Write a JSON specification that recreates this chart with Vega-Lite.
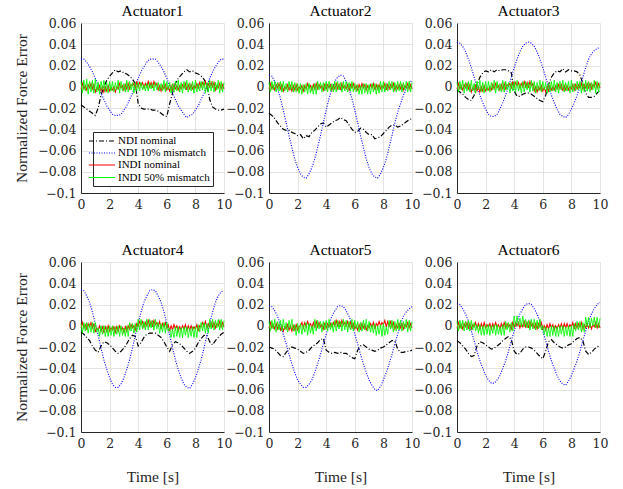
{
"$schema":"https://vega.github.io/schema/vega-lite/v6.json",
"padding":{"left":14,"top":3,"right":5,"bottom":5},
"bounds":"flush",
"columns":3,
"spacing":{"row":69,"column":45},
"resolve":{"scale":{"color":"independent","strokeDash":"independent","strokeWidth":"independent"},"legend":{"color":"independent","strokeDash":"independent","strokeWidth":"independent"}},
"config":{
"font":"Liberation Serif",
"view":{"stroke":null},
"axis":{"labelFont":"DejaVu Serif","labelFontSize":12.5,"labelColor":"#262626","titleFont":"Liberation Serif","titleFontSize":15.5,"titleFontWeight":"normal","titleColor":"#262626","gridColor":"#e3e3e3","gridWidth":1,"domainColor":"#262626","domainWidth":1,"ticks":false,"labelPadding":5,"labelFlush":false,"labelOverlap":false},
"axisY":{"titlePadding":8},
"axisX":{"titlePadding":20},
"title":{"font":"Liberation Serif","fontSize":15.5,"fontWeight":"normal","color":"#000000","frame":"group","offset":-2,"baseline":"alphabetic"}
},
"datasets":{
"a1":[
{"t":0,"k":-0.017,"b":0.026,"r":-0.002,"g":0.005},
{"t":0.2,"k":-0.019,"b":0.026,"r":-0.002,"g":0.006},
{"t":0.4,"k":-0.021,"b":0.023,"r":-0.003,"g":0.007},
{"t":0.6,"k":-0.023,"b":0.019,"r":-0.001,"g":0.005},
{"t":0.8,"k":-0.025,"b":0.014,"r":-0.002,"g":0.006},
{"t":1,"k":-0.027,"b":0.008,"r":-0.005,"g":0.007},
{"t":1.2,"k":-0.020,"b":0.001,"r":-0.003,"g":0.004},
{"t":1.4,"k":-0.008,"b":-0.006,"r":-0.004,"g":0.005},
{"t":1.6,"k":0.000,"b":-0.012,"r":-0.005,"g":0.006},
{"t":1.8,"k":0.006,"b":-0.018,"r":-0.004,"g":0.004},
{"t":2,"k":0.010,"b":-0.022,"r":-0.004,"g":0.005},
{"t":2.2,"k":0.013,"b":-0.026,"r":-0.003,"g":0.005},
{"t":2.4,"k":0.016,"b":-0.027,"r":-0.005,"g":0.004},
{"t":2.6,"k":0.014,"b":-0.027,"r":-0.002,"g":0.006},
{"t":2.8,"k":0.015,"b":-0.026,"r":-0.001,"g":0.005},
{"t":3,"k":0.013,"b":-0.022,"r":-0.003,"g":0.003},
{"t":3.2,"k":0.012,"b":-0.018,"r":-0.002,"g":0.006},
{"t":3.4,"k":0.010,"b":-0.012,"r":-0.002,"g":0.005},
{"t":3.6,"k":0.007,"b":-0.006,"r":0.001,"g":0.004},
{"t":3.8,"k":0.003,"b":0.001,"r":-0.001,"g":0.004},
{"t":4,"k":-0.016,"b":0.008,"r":0.000,"g":0.004},
{"t":4.2,"k":-0.020,"b":0.014,"r":0.001,"g":0.004},
{"t":4.4,"k":-0.021,"b":0.019,"r":-0.001,"g":0.002},
{"t":4.6,"k":-0.021,"b":0.023,"r":0.000,"g":0.003},
{"t":4.8,"k":-0.021,"b":0.026,"r":0.000,"g":0.004},
{"t":5,"k":-0.022,"b":0.026,"r":-0.001,"g":0.003},
{"t":5.2,"k":-0.022,"b":0.026,"r":0.001,"g":0.004},
{"t":5.4,"k":-0.023,"b":0.023,"r":-0.003,"g":0.004},
{"t":5.6,"k":-0.025,"b":0.019,"r":-0.004,"g":0.003},
{"t":5.8,"k":-0.027,"b":0.014,"r":-0.002,"g":0.006},
{"t":6,"k":-0.028,"b":0.008,"r":-0.003,"g":0.005},
{"t":6.2,"k":-0.016,"b":0.001,"r":-0.004,"g":0.004},
{"t":6.4,"k":-0.006,"b":-0.006,"r":-0.003,"g":0.003},
{"t":6.6,"k":0.003,"b":-0.012,"r":-0.002,"g":0.005},
{"t":6.8,"k":0.008,"b":-0.018,"r":-0.003,"g":0.006},
{"t":7,"k":0.011,"b":-0.022,"r":-0.002,"g":0.004},
{"t":7.2,"k":0.014,"b":-0.026,"r":-0.001,"g":0.005},
{"t":7.4,"k":0.016,"b":-0.029,"r":-0.003,"g":0.006},
{"t":7.6,"k":0.014,"b":-0.027,"r":-0.002,"g":0.004},
{"t":7.8,"k":0.015,"b":-0.026,"r":-0.002,"g":0.005},
{"t":8,"k":0.013,"b":-0.022,"r":-0.001,"g":0.006},
{"t":8.2,"k":0.012,"b":-0.018,"r":-0.001,"g":0.003},
{"t":8.4,"k":0.010,"b":-0.012,"r":0.000,"g":0.005},
{"t":8.6,"k":0.007,"b":-0.006,"r":0.001,"g":0.005},
{"t":8.8,"k":0.002,"b":0.001,"r":-0.001,"g":0.004},
{"t":9,"k":-0.012,"b":0.008,"r":0.000,"g":0.006},
{"t":9.2,"k":-0.019,"b":0.014,"r":0.000,"g":0.005},
{"t":9.4,"k":-0.021,"b":0.019,"r":-0.003,"g":0.004},
{"t":9.6,"k":-0.022,"b":0.023,"r":-0.001,"g":0.006},
{"t":9.8,"k":-0.022,"b":0.026,"r":-0.002,"g":0.005},
{"t":10,"k":-0.021,"b":0.026,"r":-0.002,"g":0.004},
{"t":0.1,"r":0.003,"g":-0.006},{"t":0.3,"r":0.001,"g":-0.004},{"t":0.5,"r":0.002,"g":-0.007},{"t":0.7,"r":0.003,"g":-0.005},{"t":0.9,"r":0.002,"g":-0.006},
{"t":1.1,"r":-0.001,"g":-0.005},{"t":1.3,"r":0.001,"g":-0.007},{"t":1.5,"r":0.000,"g":-0.003},{"t":1.7,"r":0.000,"g":-0.005},{"t":1.9,"r":0.001,"g":-0.006},
{"t":2.1,"r":-0.001,"g":-0.004},{"t":2.3,"r":0.000,"g":-0.005},{"t":2.5,"r":0.000,"g":-0.003},{"t":2.7,"r":0.003,"g":-0.006},{"t":2.9,"r":0.001,"g":-0.004},
{"t":3.1,"r":0.002,"g":-0.005},{"t":3.3,"r":0.003,"g":-0.005},{"t":3.5,"r":0.002,"g":-0.003},{"t":3.7,"r":0.003,"g":-0.006},{"t":3.9,"r":0.005,"g":-0.004},
{"t":4.1,"r":0.004,"g":-0.004},{"t":4.3,"r":0.004,"g":-0.003},{"t":4.5,"r":0.003,"g":-0.004},{"t":4.7,"r":0.005,"g":-0.004},{"t":4.9,"r":0.004,"g":-0.002},
{"t":5.1,"r":0.005,"g":-0.004},{"t":5.3,"r":0.003,"g":-0.003},{"t":5.5,"r":0.001,"g":-0.004},{"t":5.7,"r":0.001,"g":-0.004},{"t":5.9,"r":0.002,"g":-0.005},
{"t":6.1,"r":0.000,"g":-0.003},{"t":6.3,"r":0.001,"g":-0.006},{"t":6.5,"r":0.002,"g":-0.005},{"t":6.7,"r":0.001,"g":-0.004},{"t":6.9,"r":0.001,"g":-0.005},
{"t":7.1,"r":0.002,"g":-0.006},{"t":7.3,"r":0.003,"g":-0.003},{"t":7.5,"r":0.002,"g":-0.005},{"t":7.7,"r":0.002,"g":-0.004},{"t":7.9,"r":0.001,"g":-0.006},
{"t":8.1,"r":0.003,"g":-0.005},{"t":8.3,"r":0.004,"g":-0.004},{"t":8.5,"r":0.004,"g":-0.003},{"t":8.7,"r":0.005,"g":-0.006},{"t":8.9,"r":0.003,"g":-0.005},
{"t":9.1,"r":0.004,"g":-0.004},{"t":9.3,"r":0.004,"g":-0.005},{"t":9.5,"r":0.001,"g":-0.003},{"t":9.7,"r":0.003,"g":-0.006},{"t":9.9,"r":0.002,"g":-0.005}
],
"a2":[
{"t":0,"k":-0.025,"b":0.011,"r":-0.002,"g":0.004},
{"t":0.2,"k":-0.027,"b":0.010,"r":-0.002,"g":0.005},
{"t":0.4,"k":-0.030,"b":0.005,"r":-0.003,"g":0.005},
{"t":0.6,"k":-0.034,"b":-0.002,"r":-0.001,"g":0.004},
{"t":0.8,"k":-0.037,"b":-0.011,"r":-0.002,"g":0.005},
{"t":1,"k":-0.040,"b":-0.022,"r":-0.004,"g":0.005},
{"t":1.2,"k":-0.041,"b":-0.034,"r":-0.002,"g":0.003},
{"t":1.4,"k":-0.041,"b":-0.046,"r":-0.003,"g":0.005},
{"t":1.6,"k":-0.043,"b":-0.057,"r":-0.004,"g":0.005},
{"t":1.8,"k":-0.044,"b":-0.068,"r":-0.003,"g":0.004},
{"t":2,"k":-0.046,"b":-0.076,"r":-0.003,"g":0.003},
{"t":2.2,"k":-0.045,"b":-0.082,"r":-0.002,"g":0.003},
{"t":2.4,"k":-0.049,"b":-0.085,"r":-0.004,"g":0.002},
{"t":2.6,"k":-0.046,"b":-0.086,"r":-0.002,"g":0.003},
{"t":2.8,"k":-0.047,"b":-0.082,"r":-0.001,"g":0.003},
{"t":3,"k":-0.043,"b":-0.076,"r":-0.003,"g":0.001},
{"t":3.2,"k":-0.041,"b":-0.068,"r":-0.002,"g":0.003},
{"t":3.4,"k":-0.038,"b":-0.057,"r":-0.002,"g":0.005},
{"t":3.6,"k":-0.035,"b":-0.046,"r":-0.001,"g":0.004},
{"t":3.8,"k":-0.034,"b":-0.034,"r":-0.003,"g":0.004},
{"t":4,"k":-0.038,"b":-0.022,"r":-0.002,"g":0.005},
{"t":4.2,"k":-0.036,"b":-0.011,"r":-0.001,"g":0.005},
{"t":4.4,"k":-0.034,"b":-0.002,"r":-0.003,"g":0.003},
{"t":4.6,"k":-0.032,"b":0.005,"r":-0.002,"g":0.005},
{"t":4.8,"k":-0.031,"b":0.009,"r":-0.002,"g":0.005},
{"t":5,"k":-0.029,"b":0.011,"r":-0.003,"g":0.004},
{"t":5.2,"k":-0.031,"b":0.010,"r":-0.001,"g":0.005},
{"t":5.4,"k":-0.032,"b":0.005,"r":-0.002,"g":0.005},
{"t":5.6,"k":-0.036,"b":-0.002,"r":-0.003,"g":0.004},
{"t":5.8,"k":-0.040,"b":-0.011,"r":-0.001,"g":0.005},
{"t":6,"k":-0.043,"b":-0.022,"r":-0.002,"g":0.003},
{"t":6.2,"k":-0.042,"b":-0.034,"r":-0.003,"g":0.002},
{"t":6.4,"k":-0.039,"b":-0.046,"r":-0.002,"g":0.001},
{"t":6.6,"k":-0.040,"b":-0.057,"r":-0.001,"g":0.003},
{"t":6.8,"k":-0.043,"b":-0.068,"r":-0.003,"g":0.003},
{"t":7,"k":-0.045,"b":-0.076,"r":-0.002,"g":0.002},
{"t":7.2,"k":-0.045,"b":-0.082,"r":-0.001,"g":0.003},
{"t":7.4,"k":-0.049,"b":-0.085,"r":-0.003,"g":0.003},
{"t":7.6,"k":-0.048,"b":-0.086,"r":-0.002,"g":0.002},
{"t":7.8,"k":-0.047,"b":-0.082,"r":-0.002,"g":0.005},
{"t":8,"k":-0.044,"b":-0.076,"r":-0.001,"g":0.005},
{"t":8.2,"k":-0.041,"b":-0.068,"r":-0.003,"g":0.003},
{"t":8.4,"k":-0.038,"b":-0.057,"r":-0.002,"g":0.005},
{"t":8.6,"k":-0.036,"b":-0.046,"r":-0.001,"g":0.005},
{"t":8.8,"k":-0.036,"b":-0.034,"r":-0.003,"g":0.004},
{"t":9,"k":-0.038,"b":-0.024,"r":-0.002,"g":0.005},
{"t":9.2,"k":-0.037,"b":-0.016,"r":-0.002,"g":0.005},
{"t":9.4,"k":-0.035,"b":-0.008,"r":-0.003,"g":0.004},
{"t":9.6,"k":-0.033,"b":-0.002,"r":-0.001,"g":0.005},
{"t":9.8,"k":-0.031,"b":0.003,"r":-0.002,"g":0.005},
{"t":10,"k":-0.030,"b":0.006,"r":-0.002,"g":0.004},
{"t":0.1,"r":0.003,"g":-0.005},{"t":0.3,"r":0.001,"g":-0.003},{"t":0.5,"r":0.002,"g":-0.005},{"t":0.7,"r":0.003,"g":-0.004},{"t":0.9,"r":0.002,"g":-0.005},
{"t":1.1,"r":0.000,"g":-0.004},{"t":1.3,"r":0.002,"g":-0.005},{"t":1.5,"r":0.001,"g":-0.003},{"t":1.7,"r":0.001,"g":-0.005},{"t":1.9,"r":0.002,"g":-0.005},
{"t":2.1,"r":0.000,"g":-0.006},{"t":2.3,"r":0.001,"g":-0.007},{"t":2.5,"r":0.001,"g":-0.005},{"t":2.7,"r":0.003,"g":-0.007},{"t":2.9,"r":0.001,"g":-0.006},
{"t":3.1,"r":0.002,"g":-0.007},{"t":3.3,"r":0.003,"g":-0.007},{"t":3.5,"r":0.002,"g":-0.003},{"t":3.7,"r":0.001,"g":-0.005},{"t":3.9,"r":0.003,"g":-0.004},
{"t":4.1,"r":0.002,"g":-0.005},{"t":4.3,"r":0.002,"g":-0.004},{"t":4.5,"r":0.001,"g":-0.005},{"t":4.7,"r":0.003,"g":-0.005},{"t":4.9,"r":0.002,"g":-0.003},
{"t":5.1,"r":0.003,"g":-0.005},{"t":5.3,"r":0.001,"g":-0.004},{"t":5.5,"r":0.002,"g":-0.005},{"t":5.7,"r":0.002,"g":-0.004},{"t":5.9,"r":0.003,"g":-0.005},
{"t":6.1,"r":0.001,"g":-0.005},{"t":6.3,"r":0.002,"g":-0.007},{"t":6.5,"r":0.003,"g":-0.007},{"t":6.7,"r":0.002,"g":-0.006},{"t":6.9,"r":0.001,"g":-0.007},
{"t":7.1,"r":0.002,"g":-0.007},{"t":7.3,"r":0.003,"g":-0.005},{"t":7.5,"r":0.002,"g":-0.007},{"t":7.7,"r":0.002,"g":-0.006},{"t":7.9,"r":0.001,"g":-0.005},
{"t":8.1,"r":0.003,"g":-0.005},{"t":8.3,"r":0.002,"g":-0.004},{"t":8.5,"r":0.002,"g":-0.003},{"t":8.7,"r":0.003,"g":-0.005},{"t":8.9,"r":0.001,"g":-0.005},
{"t":9.1,"r":0.002,"g":-0.004},{"t":9.3,"r":0.002,"g":-0.005},{"t":9.5,"r":0.001,"g":-0.003},{"t":9.7,"r":0.003,"g":-0.005},{"t":9.9,"r":0.002,"g":-0.005}
],
"a3":[
{"t":0,"k":-0.003,"b":0.042,"r":-0.002,"g":0.004},
{"t":0.2,"k":-0.005,"b":0.041,"r":-0.002,"g":0.005},
{"t":0.4,"k":-0.007,"b":0.038,"r":-0.003,"g":0.006},
{"t":0.6,"k":-0.010,"b":0.033,"r":-0.001,"g":0.004},
{"t":0.8,"k":-0.012,"b":0.026,"r":-0.002,"g":0.005},
{"t":1,"k":-0.013,"b":0.018,"r":-0.005,"g":0.006},
{"t":1.2,"k":-0.008,"b":0.009,"r":-0.003,"g":0.003},
{"t":1.4,"k":0.002,"b":0.000,"r":-0.004,"g":0.005},
{"t":1.6,"k":0.009,"b":-0.008,"r":-0.005,"g":0.006},
{"t":1.8,"k":0.013,"b":-0.015,"r":-0.004,"g":0.004},
{"t":2,"k":0.015,"b":-0.021,"r":-0.004,"g":0.005},
{"t":2.2,"k":0.014,"b":-0.026,"r":-0.003,"g":0.005},
{"t":2.4,"k":0.016,"b":-0.028,"r":-0.003,"g":0.004},
{"t":2.6,"k":0.014,"b":-0.028,"r":-0.002,"g":0.006},
{"t":2.8,"k":0.016,"b":-0.026,"r":-0.001,"g":0.005},
{"t":3,"k":0.015,"b":-0.021,"r":-0.003,"g":0.003},
{"t":3.2,"k":0.016,"b":-0.015,"r":-0.002,"g":0.006},
{"t":3.4,"k":0.016,"b":-0.008,"r":-0.002,"g":0.005},
{"t":3.6,"k":0.015,"b":0.000,"r":0.001,"g":0.004},
{"t":3.8,"k":0.013,"b":0.009,"r":-0.001,"g":0.004},
{"t":4,"k":-0.004,"b":0.018,"r":0.000,"g":0.005},
{"t":4.2,"k":-0.009,"b":0.026,"r":0.001,"g":0.006},
{"t":4.4,"k":-0.009,"b":0.033,"r":-0.001,"g":0.003},
{"t":4.6,"k":-0.007,"b":0.038,"r":0.000,"g":0.005},
{"t":4.8,"k":-0.006,"b":0.041,"r":0.000,"g":0.005},
{"t":5,"k":-0.006,"b":0.042,"r":-0.001,"g":0.004},
{"t":5.2,"k":-0.007,"b":0.041,"r":0.001,"g":0.006},
{"t":5.4,"k":-0.009,"b":0.038,"r":-0.004,"g":0.005},
{"t":5.6,"k":-0.011,"b":0.033,"r":-0.005,"g":0.004},
{"t":5.8,"k":-0.013,"b":0.026,"r":-0.003,"g":0.006},
{"t":6,"k":-0.014,"b":0.018,"r":-0.004,"g":0.005},
{"t":6.2,"k":-0.008,"b":0.009,"r":-0.005,"g":0.004},
{"t":6.4,"k":0.002,"b":0.000,"r":-0.004,"g":0.003},
{"t":6.6,"k":0.009,"b":-0.008,"r":-0.003,"g":0.005},
{"t":6.8,"k":0.013,"b":-0.015,"r":-0.003,"g":0.006},
{"t":7,"k":0.015,"b":-0.021,"r":-0.002,"g":0.004},
{"t":7.2,"k":0.014,"b":-0.026,"r":-0.002,"g":0.005},
{"t":7.4,"k":0.017,"b":-0.028,"r":-0.004,"g":0.006},
{"t":7.6,"k":0.014,"b":-0.029,"r":-0.003,"g":0.004},
{"t":7.8,"k":0.016,"b":-0.026,"r":-0.003,"g":0.005},
{"t":8,"k":0.015,"b":-0.021,"r":-0.002,"g":0.006},
{"t":8.2,"k":0.015,"b":-0.015,"r":-0.003,"g":0.003},
{"t":8.4,"k":0.014,"b":-0.008,"r":-0.002,"g":0.005},
{"t":8.6,"k":0.011,"b":0.000,"r":-0.001,"g":0.005},
{"t":8.8,"k":0.003,"b":0.009,"r":-0.002,"g":0.004},
{"t":9,"k":-0.006,"b":0.018,"r":-0.001,"g":0.006},
{"t":9.2,"k":-0.010,"b":0.026,"r":-0.001,"g":0.005},
{"t":9.4,"k":-0.010,"b":0.031,"r":-0.002,"g":0.004},
{"t":9.6,"k":-0.009,"b":0.034,"r":0.000,"g":0.006},
{"t":9.8,"k":-0.006,"b":0.036,"r":-0.001,"g":0.005},
{"t":10,"k":-0.003,"b":0.037,"r":-0.001,"g":0.004},
{"t":0.1,"r":0.003,"g":-0.005},{"t":0.3,"r":0.001,"g":-0.003},{"t":0.5,"r":0.002,"g":-0.006},{"t":0.7,"r":0.003,"g":-0.004},{"t":0.9,"r":0.002,"g":-0.005},
{"t":1.1,"r":-0.001,"g":-0.004},{"t":1.3,"r":0.001,"g":-0.006},{"t":1.5,"r":0.000,"g":-0.003},{"t":1.7,"r":0.000,"g":-0.005},{"t":1.9,"r":0.001,"g":-0.006},
{"t":2.1,"r":-0.001,"g":-0.004},{"t":2.3,"r":0.000,"g":-0.005},{"t":2.5,"r":0.002,"g":-0.003},{"t":2.7,"r":0.003,"g":-0.006},{"t":2.9,"r":0.001,"g":-0.004},
{"t":3.1,"r":0.002,"g":-0.005},{"t":3.3,"r":0.003,"g":-0.005},{"t":3.5,"r":0.002,"g":-0.003},{"t":3.7,"r":0.003,"g":-0.006},{"t":3.9,"r":0.005,"g":-0.004},
{"t":4.1,"r":0.004,"g":-0.005},{"t":4.3,"r":0.004,"g":-0.004},{"t":4.5,"r":0.003,"g":-0.006},{"t":4.7,"r":0.005,"g":-0.005},{"t":4.9,"r":0.004,"g":-0.003},
{"t":5.1,"r":0.005,"g":-0.005},{"t":5.3,"r":0.003,"g":-0.004},{"t":5.5,"r":0.000,"g":-0.006},{"t":5.7,"r":0.000,"g":-0.004},{"t":5.9,"r":0.001,"g":-0.005},
{"t":6.1,"r":-0.001,"g":-0.003},{"t":6.3,"r":0.000,"g":-0.006},{"t":6.5,"r":0.001,"g":-0.005},{"t":6.7,"r":0.000,"g":-0.004},{"t":6.9,"r":0.001,"g":-0.005},
{"t":7.1,"r":0.002,"g":-0.006},{"t":7.3,"r":0.002,"g":-0.003},{"t":7.5,"r":0.001,"g":-0.005},{"t":7.7,"r":0.001,"g":-0.004},{"t":7.9,"r":0.000,"g":-0.006},
{"t":8.1,"r":0.002,"g":-0.005},{"t":8.3,"r":0.002,"g":-0.004},{"t":8.5,"r":0.002,"g":-0.003},{"t":8.7,"r":0.003,"g":-0.006},{"t":8.9,"r":0.002,"g":-0.005},
{"t":9.1,"r":0.003,"g":-0.004},{"t":9.3,"r":0.003,"g":-0.005},{"t":9.5,"r":0.002,"g":-0.003},{"t":9.7,"r":0.004,"g":-0.006},{"t":9.9,"r":0.003,"g":-0.005}
],
"a4":[
{"t":0,"k":-0.006,"b":0.034,"r":-0.002,"g":0.002},
{"t":0.2,"k":-0.008,"b":0.033,"r":-0.002,"g":0.003},
{"t":0.4,"k":-0.011,"b":0.028,"r":-0.003,"g":0.003},
{"t":0.6,"k":-0.014,"b":0.022,"r":-0.001,"g":0.002},
{"t":0.8,"k":-0.019,"b":0.013,"r":-0.002,"g":0.003},
{"t":1,"k":-0.023,"b":0.002,"r":-0.006,"g":0.003},
{"t":1.2,"k":-0.025,"b":-0.009,"r":-0.004,"g":-0.002},
{"t":1.4,"k":-0.019,"b":-0.021,"r":-0.005,"g":0.000},
{"t":1.6,"k":-0.015,"b":-0.032,"r":-0.006,"g":0.000},
{"t":1.8,"k":-0.016,"b":-0.041,"r":-0.005,"g":-0.001},
{"t":2,"k":-0.018,"b":-0.049,"r":-0.005,"g":0.000},
{"t":2.2,"k":-0.021,"b":-0.055,"r":-0.004,"g":0.000},
{"t":2.4,"k":-0.024,"b":-0.058,"r":-0.006,"g":-0.001},
{"t":2.6,"k":-0.026,"b":-0.058,"r":-0.005,"g":0.000},
{"t":2.8,"k":-0.024,"b":-0.055,"r":-0.004,"g":0.000},
{"t":3,"k":-0.021,"b":-0.049,"r":-0.006,"g":-0.002},
{"t":3.2,"k":-0.017,"b":-0.041,"r":-0.005,"g":0.000},
{"t":3.4,"k":-0.012,"b":-0.032,"r":-0.003,"g":0.003},
{"t":3.6,"k":-0.009,"b":-0.021,"r":-0.002,"g":0.002},
{"t":3.8,"k":-0.010,"b":-0.009,"r":-0.004,"g":0.002},
{"t":4,"k":-0.019,"b":0.002,"r":0.000,"g":0.006},
{"t":4.2,"k":-0.016,"b":0.013,"r":0.001,"g":0.006},
{"t":4.4,"k":-0.011,"b":0.022,"r":-0.001,"g":0.004},
{"t":4.6,"k":-0.008,"b":0.028,"r":0.000,"g":0.006},
{"t":4.8,"k":-0.007,"b":0.033,"r":0.000,"g":0.006},
{"t":5,"k":-0.007,"b":0.034,"r":-0.001,"g":0.005},
{"t":5.2,"k":-0.007,"b":0.033,"r":0.001,"g":0.006},
{"t":5.4,"k":-0.009,"b":0.028,"r":0.000,"g":0.003},
{"t":5.6,"k":-0.011,"b":0.022,"r":-0.003,"g":0.002},
{"t":5.8,"k":-0.015,"b":0.013,"r":-0.001,"g":0.003},
{"t":6,"k":-0.020,"b":0.002,"r":-0.002,"g":0.003},
{"t":6.2,"k":-0.024,"b":-0.009,"r":-0.005,"g":-0.002},
{"t":6.4,"k":-0.018,"b":-0.021,"r":-0.004,"g":-0.003},
{"t":6.6,"k":-0.015,"b":-0.032,"r":-0.003,"g":-0.001},
{"t":6.8,"k":-0.016,"b":-0.041,"r":-0.005,"g":-0.001},
{"t":7,"k":-0.018,"b":-0.049,"r":-0.004,"g":-0.002},
{"t":7.2,"k":-0.021,"b":-0.055,"r":-0.003,"g":-0.001},
{"t":7.4,"k":-0.024,"b":-0.058,"r":-0.005,"g":-0.001},
{"t":7.6,"k":-0.026,"b":-0.059,"r":-0.004,"g":-0.002},
{"t":7.8,"k":-0.024,"b":-0.055,"r":-0.004,"g":-0.001},
{"t":8,"k":-0.021,"b":-0.049,"r":-0.003,"g":-0.001},
{"t":8.2,"k":-0.016,"b":-0.041,"r":-0.005,"g":0.001},
{"t":8.4,"k":-0.012,"b":-0.032,"r":-0.001,"g":0.003},
{"t":8.6,"k":-0.009,"b":-0.021,"r":0.000,"g":0.003},
{"t":8.8,"k":-0.009,"b":-0.009,"r":-0.002,"g":0.002},
{"t":9,"k":-0.015,"b":0.002,"r":-0.001,"g":0.006},
{"t":9.2,"k":-0.018,"b":0.013,"r":-0.001,"g":0.006},
{"t":9.4,"k":-0.014,"b":0.022,"r":-0.002,"g":0.005},
{"t":9.6,"k":-0.011,"b":0.028,"r":0.000,"g":0.006},
{"t":9.8,"k":-0.008,"b":0.032,"r":-0.001,"g":0.006},
{"t":10,"k":-0.006,"b":0.033,"r":-0.001,"g":0.005},
{"t":0.1,"r":0.003,"g":-0.007},{"t":0.3,"r":0.001,"g":-0.005},{"t":0.5,"r":0.002,"g":-0.007},{"t":0.7,"r":0.003,"g":-0.006},{"t":0.9,"r":0.002,"g":-0.007},
{"t":1.1,"r":-0.002,"g":-0.006},{"t":1.3,"r":0.000,"g":-0.010},{"t":1.5,"r":-0.001,"g":-0.008},{"t":1.7,"r":-0.001,"g":-0.010},{"t":1.9,"r":0.000,"g":-0.010},
{"t":2.1,"r":-0.002,"g":-0.009},{"t":2.3,"r":-0.001,"g":-0.010},{"t":2.5,"r":-0.001,"g":-0.008},{"t":2.7,"r":0.000,"g":-0.010},{"t":2.9,"r":-0.002,"g":-0.009},
{"t":3.1,"r":-0.001,"g":-0.010},{"t":3.3,"r":0.000,"g":-0.010},{"t":3.5,"r":0.001,"g":-0.005},{"t":3.7,"r":0.000,"g":-0.007},{"t":3.9,"r":0.002,"g":-0.006},
{"t":4.1,"r":0.004,"g":-0.004},{"t":4.3,"r":0.004,"g":-0.003},{"t":4.5,"r":0.003,"g":-0.004},{"t":4.7,"r":0.005,"g":-0.004},{"t":4.9,"r":0.004,"g":-0.002},
{"t":5.1,"r":0.005,"g":-0.004},{"t":5.3,"r":0.003,"g":-0.003},{"t":5.5,"r":0.004,"g":-0.007},{"t":5.7,"r":0.002,"g":-0.006},{"t":5.9,"r":0.003,"g":-0.007},
{"t":6.1,"r":0.001,"g":-0.005},{"t":6.3,"r":0.000,"g":-0.011},{"t":6.5,"r":0.001,"g":-0.011},{"t":6.7,"r":0.000,"g":-0.010},{"t":6.9,"r":-0.001,"g":-0.011},
{"t":7.1,"r":0.000,"g":-0.011},{"t":7.3,"r":0.001,"g":-0.009},{"t":7.5,"r":0.000,"g":-0.011},{"t":7.7,"r":0.000,"g":-0.010},{"t":7.9,"r":-0.001,"g":-0.011},
{"t":8.1,"r":0.001,"g":-0.011},{"t":8.3,"r":0.000,"g":-0.006},{"t":8.5,"r":0.003,"g":-0.005},{"t":8.7,"r":0.004,"g":-0.007},{"t":8.9,"r":0.002,"g":-0.007},
{"t":9.1,"r":0.003,"g":-0.003},{"t":9.3,"r":0.003,"g":-0.004},{"t":9.5,"r":0.002,"g":-0.002},{"t":9.7,"r":0.004,"g":-0.004},{"t":9.9,"r":0.003,"g":-0.004}
],
"a5":[
{"t":0,"k":-0.020,"b":0.019,"r":-0.002,"g":0.004},
{"t":0.2,"k":-0.021,"b":0.018,"r":-0.002,"g":0.005},
{"t":0.4,"k":-0.022,"b":0.014,"r":-0.003,"g":0.006},
{"t":0.6,"k":-0.025,"b":0.009,"r":-0.003,"g":0.004},
{"t":0.8,"k":-0.028,"b":0.001,"r":-0.004,"g":0.005},
{"t":1,"k":-0.029,"b":-0.008,"r":-0.005,"g":0.006},
{"t":1.2,"k":-0.025,"b":-0.017,"r":-0.003,"g":0.003},
{"t":1.4,"k":-0.022,"b":-0.027,"r":-0.004,"g":0.005},
{"t":1.6,"k":-0.020,"b":-0.036,"r":-0.005,"g":0.006},
{"t":1.8,"k":-0.021,"b":-0.044,"r":-0.004,"g":0.001},
{"t":2,"k":-0.022,"b":-0.051,"r":-0.004,"g":0.002},
{"t":2.2,"k":-0.024,"b":-0.055,"r":0.000,"g":0.002},
{"t":2.4,"k":-0.026,"b":-0.058,"r":-0.002,"g":0.001},
{"t":2.6,"k":-0.025,"b":-0.058,"r":-0.001,"g":0.003},
{"t":2.8,"k":-0.023,"b":-0.055,"r":0.000,"g":0.002},
{"t":3,"k":-0.020,"b":-0.051,"r":-0.002,"g":0.000},
{"t":3.2,"k":-0.018,"b":-0.044,"r":-0.001,"g":0.006},
{"t":3.4,"k":-0.016,"b":-0.036,"r":-0.001,"g":0.005},
{"t":3.6,"k":-0.013,"b":-0.027,"r":-0.001,"g":0.004},
{"t":3.8,"k":-0.012,"b":-0.017,"r":-0.003,"g":0.004},
{"t":4,"k":-0.023,"b":-0.008,"r":-0.002,"g":0.005},
{"t":4.2,"k":-0.025,"b":0.001,"r":-0.001,"g":0.006},
{"t":4.4,"k":-0.026,"b":0.009,"r":-0.001,"g":0.003},
{"t":4.6,"k":-0.025,"b":0.014,"r":0.000,"g":0.005},
{"t":4.8,"k":-0.026,"b":0.018,"r":0.000,"g":0.005},
{"t":5,"k":-0.025,"b":0.019,"r":-0.001,"g":0.004},
{"t":5.2,"k":-0.026,"b":0.018,"r":0.001,"g":0.006},
{"t":5.4,"k":-0.026,"b":0.014,"r":0.000,"g":0.005},
{"t":5.6,"k":-0.028,"b":0.009,"r":-0.001,"g":0.004},
{"t":5.8,"k":-0.030,"b":0.001,"r":-0.002,"g":0.006},
{"t":6,"k":-0.031,"b":-0.008,"r":-0.003,"g":0.005},
{"t":6.2,"k":-0.023,"b":-0.017,"r":-0.004,"g":0.004},
{"t":6.4,"k":-0.019,"b":-0.027,"r":-0.003,"g":0.003},
{"t":6.6,"k":-0.018,"b":-0.036,"r":-0.002,"g":0.005},
{"t":6.8,"k":-0.020,"b":-0.044,"r":-0.004,"g":0.006},
{"t":7,"k":-0.022,"b":-0.051,"r":-0.002,"g":0.004},
{"t":7.2,"k":-0.023,"b":-0.056,"r":-0.001,"g":0.001},
{"t":7.4,"k":-0.024,"b":-0.060,"r":-0.003,"g":0.002},
{"t":7.6,"k":-0.023,"b":-0.061,"r":0.000,"g":0.000},
{"t":7.8,"k":-0.021,"b":-0.057,"r":0.000,"g":0.001},
{"t":8,"k":-0.020,"b":-0.051,"r":0.001,"g":0.002},
{"t":8.2,"k":-0.018,"b":-0.044,"r":-0.001,"g":-0.001},
{"t":8.4,"k":-0.016,"b":-0.036,"r":0.000,"g":0.005},
{"t":8.6,"k":-0.014,"b":-0.027,"r":-0.001,"g":0.005},
{"t":8.8,"k":-0.014,"b":-0.017,"r":-0.003,"g":0.004},
{"t":9,"k":-0.022,"b":-0.008,"r":-0.002,"g":0.006},
{"t":9.2,"k":-0.025,"b":0.001,"r":-0.002,"g":0.005},
{"t":9.4,"k":-0.025,"b":0.009,"r":-0.003,"g":0.004},
{"t":9.6,"k":-0.024,"b":0.013,"r":-0.001,"g":0.006},
{"t":9.8,"k":-0.024,"b":0.016,"r":-0.002,"g":0.005},
{"t":10,"k":-0.023,"b":0.018,"r":-0.002,"g":0.004},
{"t":0.1,"r":0.003,"g":-0.005},{"t":0.3,"r":0.001,"g":-0.003},{"t":0.5,"r":0.002,"g":-0.006},{"t":0.7,"r":0.001,"g":-0.004},{"t":0.9,"r":0.000,"g":-0.005},
{"t":1.1,"r":-0.001,"g":-0.004},{"t":1.3,"r":0.001,"g":-0.006},{"t":1.5,"r":0.000,"g":-0.003},{"t":1.7,"r":0.000,"g":-0.005},{"t":1.9,"r":0.001,"g":-0.009},
{"t":2.1,"r":-0.001,"g":-0.007},{"t":2.3,"r":0.003,"g":-0.008},{"t":2.5,"r":0.003,"g":-0.006},{"t":2.7,"r":0.004,"g":-0.009},{"t":2.9,"r":0.002,"g":-0.007},
{"t":3.1,"r":0.003,"g":-0.008},{"t":3.3,"r":0.004,"g":-0.005},{"t":3.5,"r":0.003,"g":-0.003},{"t":3.7,"r":0.001,"g":-0.006},{"t":3.9,"r":0.003,"g":-0.004},
{"t":4.1,"r":0.002,"g":-0.005},{"t":4.3,"r":0.002,"g":-0.004},{"t":4.5,"r":0.003,"g":-0.006},{"t":4.7,"r":0.005,"g":-0.005},{"t":4.9,"r":0.004,"g":-0.003},
{"t":5.1,"r":0.005,"g":-0.005},{"t":5.3,"r":0.003,"g":-0.004},{"t":5.5,"r":0.004,"g":-0.006},{"t":5.7,"r":0.004,"g":-0.004},{"t":5.9,"r":0.002,"g":-0.005},
{"t":6.1,"r":0.000,"g":-0.003},{"t":6.3,"r":0.001,"g":-0.006},{"t":6.5,"r":0.002,"g":-0.005},{"t":6.7,"r":0.001,"g":-0.004},{"t":6.9,"r":0.000,"g":-0.005},
{"t":7.1,"r":0.002,"g":-0.006},{"t":7.3,"r":0.003,"g":-0.007},{"t":7.5,"r":0.002,"g":-0.009},{"t":7.7,"r":0.004,"g":-0.008},{"t":7.9,"r":0.003,"g":-0.010},
{"t":8.1,"r":0.005,"g":-0.009},{"t":8.3,"r":0.004,"g":-0.008},{"t":8.5,"r":0.004,"g":-0.003},{"t":8.7,"r":0.003,"g":-0.006},{"t":8.9,"r":0.001,"g":-0.005},
{"t":9.1,"r":0.002,"g":-0.004},{"t":9.3,"r":0.002,"g":-0.005},{"t":9.5,"r":0.001,"g":-0.003},{"t":9.7,"r":0.003,"g":-0.006},{"t":9.9,"r":0.002,"g":-0.005}
],
"a6":[
{"t":0,"k":-0.014,"b":0.021,"r":-0.002,"g":0.004},
{"t":0.2,"k":-0.016,"b":0.020,"r":-0.002,"g":0.005},
{"t":0.4,"k":-0.019,"b":0.016,"r":-0.003,"g":0.005},
{"t":0.6,"k":-0.022,"b":0.011,"r":-0.001,"g":0.004},
{"t":0.8,"k":-0.026,"b":0.004,"r":-0.002,"g":0.005},
{"t":1,"k":-0.029,"b":-0.005,"r":-0.003,"g":0.005},
{"t":1.2,"k":-0.028,"b":-0.014,"r":-0.001,"g":0.003},
{"t":1.4,"k":-0.019,"b":-0.024,"r":-0.002,"g":0.001},
{"t":1.6,"k":-0.015,"b":-0.033,"r":-0.003,"g":0.001},
{"t":1.8,"k":-0.016,"b":-0.040,"r":-0.002,"g":0.000},
{"t":2,"k":-0.018,"b":-0.047,"r":-0.002,"g":0.001},
{"t":2.2,"k":-0.020,"b":-0.051,"r":-0.001,"g":0.001},
{"t":2.4,"k":-0.022,"b":-0.054,"r":-0.003,"g":0.000},
{"t":2.6,"k":-0.021,"b":-0.054,"r":-0.002,"g":0.001},
{"t":2.8,"k":-0.019,"b":-0.051,"r":-0.001,"g":0.001},
{"t":3,"k":-0.017,"b":-0.047,"r":-0.003,"g":-0.001},
{"t":3.2,"k":-0.014,"b":-0.040,"r":-0.002,"g":0.001},
{"t":3.4,"k":-0.012,"b":-0.033,"r":-0.002,"g":0.004},
{"t":3.6,"k":-0.010,"b":-0.024,"r":-0.001,"g":0.003},
{"t":3.8,"k":-0.013,"b":-0.014,"r":-0.003,"g":0.003},
{"t":4,"k":-0.024,"b":-0.005,"r":-0.001,"g":0.009},
{"t":4.2,"k":-0.027,"b":0.004,"r":0.000,"g":0.009},
{"t":4.4,"k":-0.026,"b":0.011,"r":-0.002,"g":0.007},
{"t":4.6,"k":-0.022,"b":0.016,"r":-0.001,"g":0.009},
{"t":4.8,"k":-0.020,"b":0.020,"r":-0.001,"g":0.006},
{"t":5,"k":-0.020,"b":0.021,"r":-0.002,"g":0.005},
{"t":5.2,"k":-0.021,"b":0.020,"r":0.000,"g":0.006},
{"t":5.4,"k":-0.023,"b":0.016,"r":-0.002,"g":0.006},
{"t":5.6,"k":-0.026,"b":0.011,"r":-0.003,"g":0.005},
{"t":5.8,"k":-0.029,"b":0.004,"r":-0.001,"g":0.006},
{"t":6,"k":-0.031,"b":-0.005,"r":-0.003,"g":0.000},
{"t":6.2,"k":-0.024,"b":-0.014,"r":-0.004,"g":-0.001},
{"t":6.4,"k":-0.015,"b":-0.024,"r":-0.003,"g":-0.002},
{"t":6.6,"k":-0.013,"b":-0.033,"r":-0.002,"g":0.000},
{"t":6.8,"k":-0.016,"b":-0.040,"r":-0.004,"g":0.000},
{"t":7,"k":-0.018,"b":-0.047,"r":-0.003,"g":-0.001},
{"t":7.2,"k":-0.020,"b":-0.052,"r":-0.002,"g":0.000},
{"t":7.4,"k":-0.021,"b":-0.055,"r":-0.003,"g":0.000},
{"t":7.6,"k":-0.020,"b":-0.056,"r":-0.002,"g":-0.001},
{"t":7.8,"k":-0.018,"b":-0.052,"r":-0.002,"g":0.000},
{"t":8,"k":-0.017,"b":-0.047,"r":-0.001,"g":0.000},
{"t":8.2,"k":-0.014,"b":-0.040,"r":-0.003,"g":0.002},
{"t":8.4,"k":-0.012,"b":-0.033,"r":-0.002,"g":0.004},
{"t":8.6,"k":-0.011,"b":-0.024,"r":-0.001,"g":0.004},
{"t":8.8,"k":-0.014,"b":-0.014,"r":-0.003,"g":0.003},
{"t":9,"k":-0.024,"b":-0.005,"r":-0.002,"g":0.008},
{"t":9.2,"k":-0.027,"b":0.004,"r":-0.002,"g":0.008},
{"t":9.4,"k":-0.025,"b":0.011,"r":-0.003,"g":0.007},
{"t":9.6,"k":-0.022,"b":0.016,"r":-0.001,"g":0.008},
{"t":9.8,"k":-0.020,"b":0.020,"r":-0.002,"g":0.008},
{"t":10,"k":-0.018,"b":0.022,"r":-0.002,"g":0.007},
{"t":0.1,"r":0.003,"g":-0.005},{"t":0.3,"r":0.001,"g":-0.003},{"t":0.5,"r":0.002,"g":-0.005},{"t":0.7,"r":0.003,"g":-0.004},{"t":0.9,"r":0.002,"g":-0.005},
{"t":1.1,"r":0.001,"g":-0.004},{"t":1.3,"r":0.003,"g":-0.005},{"t":1.5,"r":0.002,"g":-0.007},{"t":1.7,"r":0.002,"g":-0.009},{"t":1.9,"r":0.003,"g":-0.009},
{"t":2.1,"r":0.001,"g":-0.008},{"t":2.3,"r":0.002,"g":-0.009},{"t":2.5,"r":0.002,"g":-0.007},{"t":2.7,"r":0.003,"g":-0.009},{"t":2.9,"r":0.001,"g":-0.008},
{"t":3.1,"r":0.002,"g":-0.009},{"t":3.3,"r":0.003,"g":-0.009},{"t":3.5,"r":0.002,"g":-0.004},{"t":3.7,"r":0.001,"g":-0.006},{"t":3.9,"r":0.003,"g":-0.005},
{"t":4.1,"r":0.003,"g":-0.001},{"t":4.3,"r":0.003,"g":0.000},{"t":4.5,"r":0.002,"g":-0.001},{"t":4.7,"r":0.004,"g":-0.001},{"t":4.9,"r":0.003,"g":-0.002},
{"t":5.1,"r":0.004,"g":-0.004},{"t":5.3,"r":0.002,"g":-0.003},{"t":5.5,"r":0.002,"g":-0.004},{"t":5.7,"r":0.002,"g":-0.003},{"t":5.9,"r":0.003,"g":-0.004},
{"t":6.1,"r":0.000,"g":-0.008},{"t":6.3,"r":0.001,"g":-0.010},{"t":6.5,"r":0.002,"g":-0.010},{"t":6.7,"r":0.001,"g":-0.009},{"t":6.9,"r":0.000,"g":-0.010},
{"t":7.1,"r":0.001,"g":-0.010},{"t":7.3,"r":0.002,"g":-0.008},{"t":7.5,"r":0.002,"g":-0.010},{"t":7.7,"r":0.002,"g":-0.009},{"t":7.9,"r":0.001,"g":-0.010},
{"t":8.1,"r":0.003,"g":-0.010},{"t":8.3,"r":0.002,"g":-0.005},{"t":8.5,"r":0.002,"g":-0.004},{"t":8.7,"r":0.003,"g":-0.006},{"t":8.9,"r":0.001,"g":-0.006},
{"t":9.1,"r":0.002,"g":-0.001},{"t":9.3,"r":0.002,"g":-0.002},{"t":9.5,"r":0.001,"g":0.000},{"t":9.7,"r":0.003,"g":-0.002},{"t":9.9,"r":0.002,"g":-0.002}
]
},
"concat":[
{"data":{"name":"a1"},"title":"Actuator1","width":143,"height":170,
"transform":[{"fold":["k","b","r","g"],"as":["s","v"]},{"filter":"isValid(datum.v)"}],
"mark":{"type":"line"},
"encoding":{
"x":{"field":"t","type":"quantitative","scale":{"domain":[0,10],"nice":false},"axis":{"title":null,"values":[0,2,4,6,8,10]}},
"y":{"field":"v","type":"quantitative","scale":{"domain":[-0.1,0.06],"nice":false},"axis":{"title":"Normalized Force Error","values":[-0.1,-0.08,-0.06,-0.04,-0.02,0,0.02,0.04,0.06],"format":"~g"}},
"color":{"field":"s","type":"nominal","scale":{"domain":["k","b","r","g"],"range":["#000000","#0000ff","#ff0000","#00ff00"]},
"legend":{"title":null,"orient":"none","legendX":12,"legendY":109,"labelExpr":"datum.label=='k'?'NDI nominal':datum.label=='b'?'NDI 10% mismatch':datum.label=='r'?'INDI nominal':'INDI 50% mismatch'","symbolType":"M-2.6,0H2.6","symbolSize":100,"symbolStrokeWidth":1.5,"labelOffset":10,"labelFont":"Liberation Serif","labelFontSize":11,"labelColor":"#000000","padding":3,"rowPadding":1,"strokeColor":"#262626","fillColor":"#ffffff",
"encode":{"symbols":{"update":{"strokeDash":{"signal":"datum.value=='k'?[5,2,1,2]:datum.value=='b'?[1,1.5]:datum.value=='g'?[4,2]:[1,0]"}}}}}},
"strokeDash":{"field":"s","type":"nominal","scale":{"domain":["k","b","r","g"],"range":[[5,2,1,2],[1,1.5],[1,0],[1,0]]},"legend":null},
"strokeWidth":{"field":"s","type":"ordinal","scale":{"domain":["k","b","r","g"],"range":[1.2,1,1.2,1.3]},"legend":null}
}},
{"data":{"name":"a2"},"title":"Actuator2","width":143,"height":170,
"transform":[{"fold":["k","b","r","g"],"as":["s","v"]},{"filter":"isValid(datum.v)"}],
"mark":{"type":"line"},
"encoding":{
"x":{"field":"t","type":"quantitative","scale":{"domain":[0,10],"nice":false},"axis":{"title":null,"values":[0,2,4,6,8,10]}},
"y":{"field":"v","type":"quantitative","scale":{"domain":[-0.1,0.06],"nice":false},"axis":{"title":null,"values":[-0.1,-0.08,-0.06,-0.04,-0.02,0,0.02,0.04,0.06],"format":"~g"}},
"color":{"field":"s","type":"nominal","scale":{"domain":["k","b","r","g"],"range":["#000000","#0000ff","#ff0000","#00ff00"]},"legend":null},
"strokeDash":{"field":"s","type":"nominal","scale":{"domain":["k","b","r","g"],"range":[[5,2,1,2],[1,1.5],[1,0],[1,0]]},"legend":null},
"strokeWidth":{"field":"s","type":"ordinal","scale":{"domain":["k","b","r","g"],"range":[1.2,1,1.2,1.3]},"legend":null}
}},
{"data":{"name":"a3"},"title":"Actuator3","width":143,"height":170,
"transform":[{"fold":["k","b","r","g"],"as":["s","v"]},{"filter":"isValid(datum.v)"}],
"mark":{"type":"line"},
"encoding":{
"x":{"field":"t","type":"quantitative","scale":{"domain":[0,10],"nice":false},"axis":{"title":null,"values":[0,2,4,6,8,10]}},
"y":{"field":"v","type":"quantitative","scale":{"domain":[-0.1,0.06],"nice":false},"axis":{"title":null,"values":[-0.1,-0.08,-0.06,-0.04,-0.02,0,0.02,0.04,0.06],"format":"~g"}},
"color":{"field":"s","type":"nominal","scale":{"domain":["k","b","r","g"],"range":["#000000","#0000ff","#ff0000","#00ff00"]},"legend":null},
"strokeDash":{"field":"s","type":"nominal","scale":{"domain":["k","b","r","g"],"range":[[5,2,1,2],[1,1.5],[1,0],[1,0]]},"legend":null},
"strokeWidth":{"field":"s","type":"ordinal","scale":{"domain":["k","b","r","g"],"range":[1.2,1,1.2,1.3]},"legend":null}
}},
{"data":{"name":"a4"},"title":"Actuator4","width":143,"height":170,
"transform":[{"fold":["k","b","r","g"],"as":["s","v"]},{"filter":"isValid(datum.v)"}],
"mark":{"type":"line"},
"encoding":{
"x":{"field":"t","type":"quantitative","scale":{"domain":[0,10],"nice":false},"axis":{"title":"Time [s]","values":[0,2,4,6,8,10]}},
"y":{"field":"v","type":"quantitative","scale":{"domain":[-0.1,0.06],"nice":false},"axis":{"title":"Normalized Force Error","values":[-0.1,-0.08,-0.06,-0.04,-0.02,0,0.02,0.04,0.06],"format":"~g"}},
"color":{"field":"s","type":"nominal","scale":{"domain":["k","b","r","g"],"range":["#000000","#0000ff","#ff0000","#00ff00"]},"legend":null},
"strokeDash":{"field":"s","type":"nominal","scale":{"domain":["k","b","r","g"],"range":[[5,2,1,2],[1,1.5],[1,0],[1,0]]},"legend":null},
"strokeWidth":{"field":"s","type":"ordinal","scale":{"domain":["k","b","r","g"],"range":[1.2,1,1.2,1.3]},"legend":null}
}},
{"data":{"name":"a5"},"title":"Actuator5","width":143,"height":170,
"transform":[{"fold":["k","b","r","g"],"as":["s","v"]},{"filter":"isValid(datum.v)"}],
"mark":{"type":"line"},
"encoding":{
"x":{"field":"t","type":"quantitative","scale":{"domain":[0,10],"nice":false},"axis":{"title":"Time [s]","values":[0,2,4,6,8,10]}},
"y":{"field":"v","type":"quantitative","scale":{"domain":[-0.1,0.06],"nice":false},"axis":{"title":null,"values":[-0.1,-0.08,-0.06,-0.04,-0.02,0,0.02,0.04,0.06],"format":"~g"}},
"color":{"field":"s","type":"nominal","scale":{"domain":["k","b","r","g"],"range":["#000000","#0000ff","#ff0000","#00ff00"]},"legend":null},
"strokeDash":{"field":"s","type":"nominal","scale":{"domain":["k","b","r","g"],"range":[[5,2,1,2],[1,1.5],[1,0],[1,0]]},"legend":null},
"strokeWidth":{"field":"s","type":"ordinal","scale":{"domain":["k","b","r","g"],"range":[1.2,1,1.2,1.3]},"legend":null}
}},
{"data":{"name":"a6"},"title":"Actuator6","width":143,"height":170,
"transform":[{"fold":["k","b","r","g"],"as":["s","v"]},{"filter":"isValid(datum.v)"}],
"mark":{"type":"line"},
"encoding":{
"x":{"field":"t","type":"quantitative","scale":{"domain":[0,10],"nice":false},"axis":{"title":"Time [s]","values":[0,2,4,6,8,10]}},
"y":{"field":"v","type":"quantitative","scale":{"domain":[-0.1,0.06],"nice":false},"axis":{"title":null,"values":[-0.1,-0.08,-0.06,-0.04,-0.02,0,0.02,0.04,0.06],"format":"~g"}},
"color":{"field":"s","type":"nominal","scale":{"domain":["k","b","r","g"],"range":["#000000","#0000ff","#ff0000","#00ff00"]},"legend":null},
"strokeDash":{"field":"s","type":"nominal","scale":{"domain":["k","b","r","g"],"range":[[5,2,1,2],[1,1.5],[1,0],[1,0]]},"legend":null},
"strokeWidth":{"field":"s","type":"ordinal","scale":{"domain":["k","b","r","g"],"range":[1.2,1,1.2,1.3]},"legend":null}
}}
]
}
